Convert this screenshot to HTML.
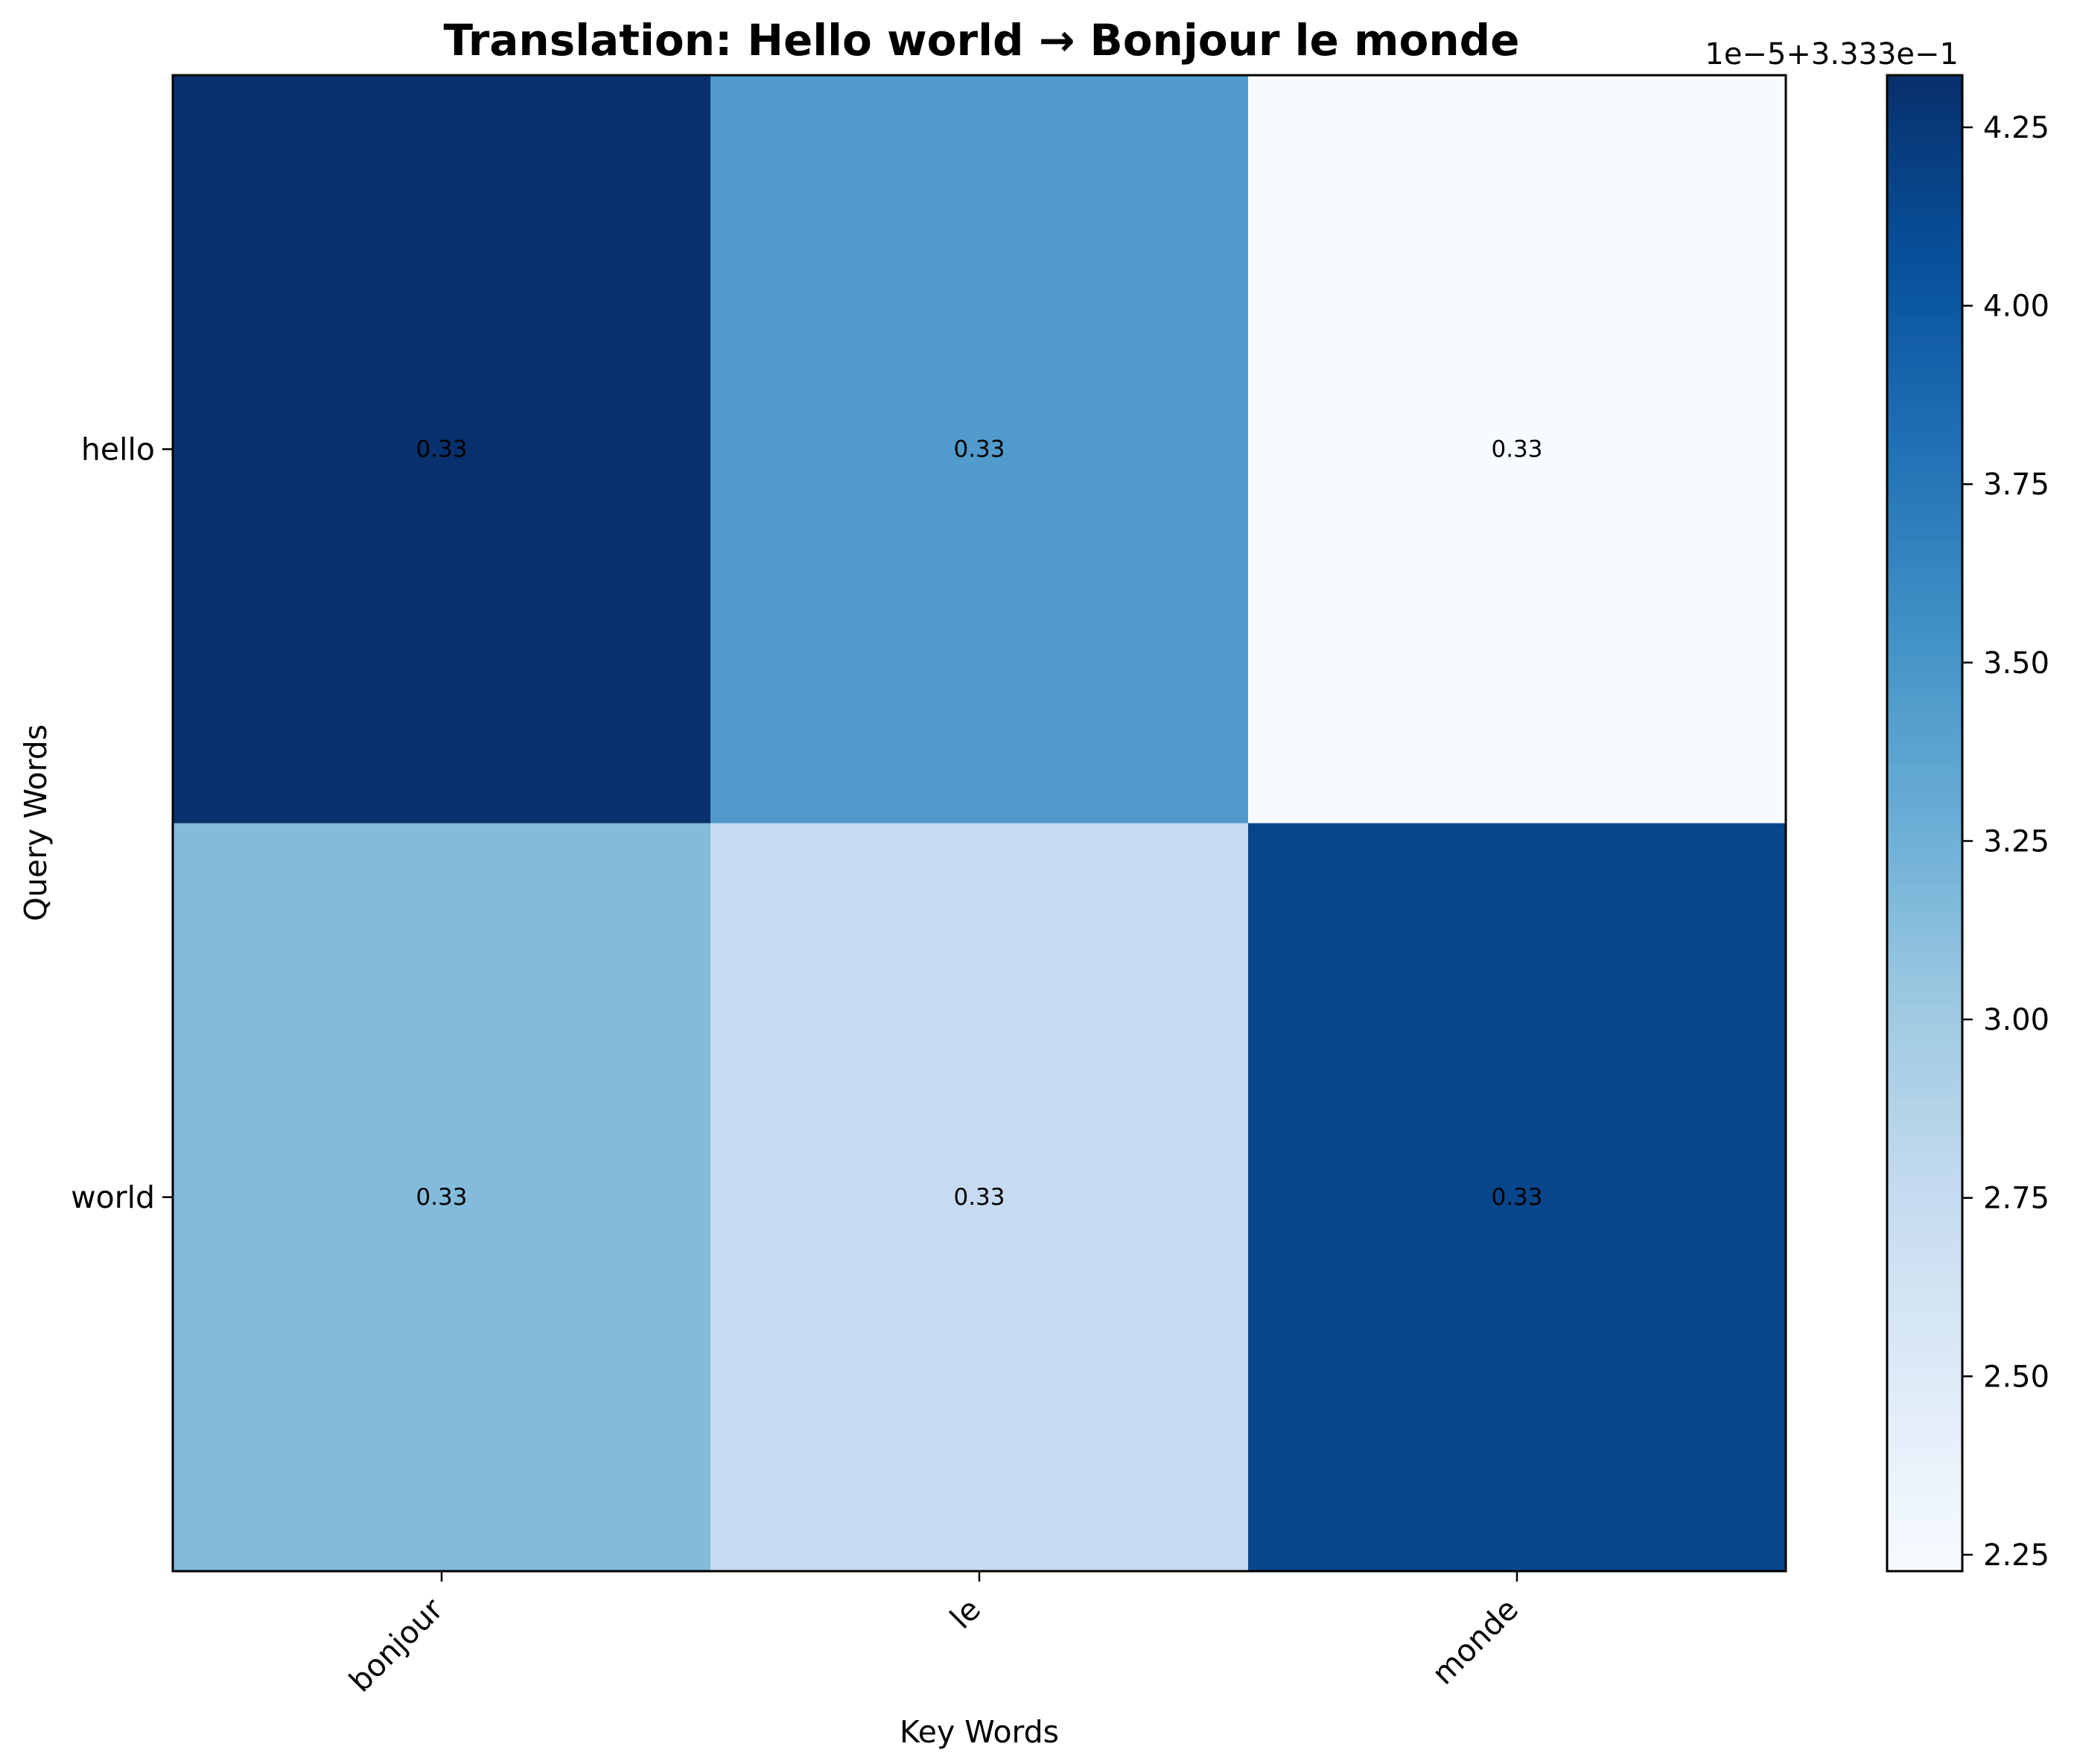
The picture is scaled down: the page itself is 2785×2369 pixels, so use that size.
<!DOCTYPE html>
<html><head><meta charset="utf-8"><style>
html,body{margin:0;padding:0;background:#fff}
svg{display:block;font-family:"DejaVu Sans","Liberation Sans",sans-serif}
</style></head><body>
<svg id="chart" width="2785" height="2369" viewBox="0 0 2785 2369">
<text x="1318" y="74" text-anchor="middle" font-size="58" font-weight="bold">Translation: Hello world → Bonjour le monde</text>
<g id="cells"></g>
<g id="axes"></g>
<g id="cbar"></g>
<text x="1315" y="2340" text-anchor="middle" font-size="41">Key Words</text>
<text transform="translate(62,1105) rotate(-90)" text-anchor="middle" font-size="41">Query Words</text>
</svg>
<script>
const keys = ["bonjour","le","monde"];
const queries = ["hello","world"];
const values = [[4.32,3.45,2.23],[3.15,2.75,4.15]];
const cellLabels = [["0.33","0.33","0.33"],["0.33","0.33","0.33"]];
const cbarTicks = [2.25,2.50,2.75,3.00,3.25,3.50,3.75,4.00,4.25];
const vmin = 2.227, vmax = 4.323;

const NS="http://www.w3.org/2000/svg";
const L=232,R=2398,T=101,B=2110;
const CL=2534,CR=2635;
const blues=["#f7fbff","#deebf7","#c6dbef","#9ecae1","#6baed6","#4292c6","#2171b5","#08519c","#08306b"];
function hex(h){return [1,3,5].map(i=>parseInt(h.substr(i,2),16));}
function cmap(t){t=Math.max(0,Math.min(1,t));const p=t*(blues.length-1);const i=Math.min(Math.floor(p),blues.length-2);const f=p-i;const a=hex(blues[i]),b=hex(blues[i+1]);return "rgb("+a.map((v,k)=>Math.round(v+(b[k]-v)*f)).join(",")+")";}
function norm(v){return (v-vmin)/(vmax-vmin);}
const cw=(R-L)/keys.length, ch=(B-T)/queries.length;
function xc(i){return L+cw*(i+0.5);}
function yc(j){return T+ch*(j+0.5);}
function cy(v){return B-(v-vmin)/(vmax-vmin)*(B-T);}
function mk(tag,attrs,parent){const e=document.createElementNS(NS,tag);for(const k in attrs)e.setAttribute(k,attrs[k]);parent.appendChild(e);return e;}
const cells=document.getElementById("cells"),axes=document.getElementById("axes"),cbar=document.getElementById("cbar");
queries.forEach((q,j)=>keys.forEach((k,i)=>{
  const r=mk("rect",{x:L+cw*i,y:T+ch*j,width:cw+0.5,height:ch+0.5,fill:cmap(norm(values[j][i]))},cells);
  
  
  const t=mk("text",{x:xc(i),y:yc(j)+10,"text-anchor":"middle","font-size":"31",fill:"#000"},cells);
  t.textContent=cellLabels[j][i];
  
  
}));
const frame=mk("rect",{x:L,y:T,width:R-L,height:B-T,fill:"none",stroke:"#000","stroke-width":"3"},axes);


keys.forEach((k,i)=>{
  mk("line",{x1:xc(i),x2:xc(i),y1:B,y2:B+14,stroke:"#000","stroke-width":"2.5"},axes);
  const t=mk("text",{"text-anchor":"end","font-size":"41",transform:"translate("+(xc(i)+4)+","+(B+54)+") rotate(-45)"},axes);
  t.textContent=k;
  
  
});
queries.forEach((q,j)=>{
  mk("line",{x1:L-14,x2:L,y1:yc(j),y2:yc(j),stroke:"#000","stroke-width":"2.5"},axes);
  const t=mk("text",{x:L-24,y:yc(j)+14,"text-anchor":"end","font-size":"41"},axes);
  t.textContent=q;
  
  
});
const N=200;
for(let s=0;s<N;s++){
  const v0=vmin+(vmax-vmin)*s/N,v1=vmin+(vmax-vmin)*(s+1)/N;
  mk("rect",{x:CL,y:cy(v1),width:CR-CL,height:cy(v0)-cy(v1)+0.8,fill:cmap((s+0.5)/N)},cbar);
}
const cf=mk("rect",{x:CL,y:T,width:CR-CL,height:B-T,fill:"none",stroke:"#000","stroke-width":"3"},cbar);


cbarTicks.forEach(v=>{
  mk("line",{x1:CR,x2:CR+14,y1:cy(v),y2:cy(v),stroke:"#000","stroke-width":"2.5"},cbar);
  const t=mk("text",{x:CR+28,y:cy(v)+14,"font-size":"40"},cbar);
  t.textContent=v.toFixed(2);
  
  
});
const off=mk("text",{x:2630,y:86,"text-anchor":"end","font-size":"40"},cbar);
off.textContent="1e−5+3.333e−1";


</script>
</body></html>
